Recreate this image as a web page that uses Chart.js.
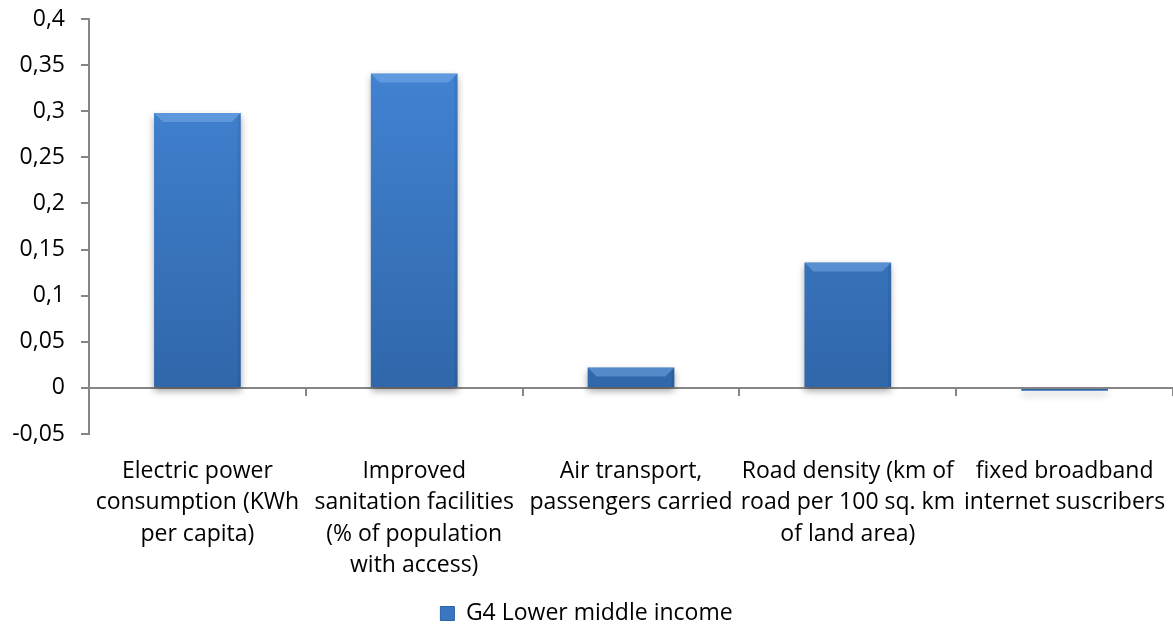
<!DOCTYPE html>
<html>
<head>
<meta charset="utf-8">
<title>G4 Lower middle income</title>
<script src="https://cdn.jsdelivr.net/npm/chart.js@4/dist/chart.umd.min.js"></script>
<style>
html,body{margin:0;padding:0;background:#fff;}
#wrap{width:1173px;height:637px;}
</style>
</head>
<body>
<div id="wrap"><canvas id="chart" width="1173" height="637"></canvas></div>
<script>

const categories=[
["Electric power","consumption (KWh","per capita)"],
["Improved","sanitation facilities","(% of population","with access)"],
["Air transport,","passengers carried"],
["Road density (km of","road per 100 sq. km","of land area)"],
["fixed broadband","internet suscribers"]
];

const seriesName="G4 Lower middle income";

const values=[0.298,0.341,0.022,0.136,-0.003];

const yMin=-0.05;
const yMax=0.4;
const yStep=0.05;

const axisColor="#868686";
const font={family:"'Open Sans', 'Liberation Sans', sans-serif",size:23};


function barGradient(context){

const chart=context.chart;
const area=chart.chartArea;

if(!area)return "#3a75bf";

const g=chart.ctx.createLinearGradient(0,area.top,0,area.bottom);
g.addColorStop(0,"#4487d8");
g.addColorStop(1,"#2e63a5");

return g;

}


function formatTick(v){

const r=Math.round(v*100)/100;

return String(r).replace(".",",");

}


// soft drop shadow under the bars
const barShadow={
id:"barShadow",
beforeDatasetDraw(chart){
const ctx=chart.ctx;
ctx.save();
ctx.shadowColor="rgba(0,0,0,0.35)";
ctx.shadowBlur=7;
ctx.shadowOffsetY=4;
},
afterDatasetDraw(chart){
chart.ctx.restore();
}
};


// light bevel along the top of each bar, darker right edge
const barBevel={
id:"barBevel",
afterDatasetDraw(chart,args){

const ctx=chart.ctx;

args.meta.data.forEach(bar=>{

const p=bar.getProps(["x","y","base","width"],true);

const left=p.x-p.width/2;
const right=p.x+p.width/2;
const top=Math.min(p.y,p.base);
const bottom=Math.max(p.y,p.base);
const h=bottom-top;

if(h<4)return;

const b=Math.min(9,h/2);

ctx.save();

ctx.fillStyle="rgba(140,190,245,0.4)";
ctx.beginPath();
ctx.moveTo(left,top);
ctx.lineTo(right,top);
ctx.lineTo(right-b,top+b);
ctx.lineTo(left+b,top+b);
ctx.closePath();
ctx.fill();

ctx.fillStyle="rgba(0,0,30,0.08)";
ctx.beginPath();
ctx.moveTo(right,top);
ctx.lineTo(right-3,top+3);
ctx.lineTo(right-3,bottom);
ctx.lineTo(right,bottom);
ctx.closePath();
ctx.fill();

ctx.restore();

});

}
};


new Chart(document.getElementById("chart"),{
type:"bar",
data:{
labels:categories,
datasets:[{
label:seriesName,
data:values,
backgroundColor:barGradient,
borderWidth:0,
xAxisID:"x",
categoryPercentage:1,
barPercentage:0.4
}]
},
options:{
responsive:false,
animation:false,
layout:{padding:{top:19,right:0,bottom:2,left:0}},
plugins:{
tooltip:{enabled:false},
legend:{
position:"bottom",
labels:{
color:"#000",
font:font,
boxWidth:14,
boxHeight:14,
padding:10,
generateLabels(chart){
return [{
text:seriesName,
fillStyle:"#3a76c2",
strokeStyle:"#2d62a4",
lineWidth:1,
datasetIndex:0
}];
}
}
}
},
scales:{
x:{
type:"category",
position:{y:0},
ticks:{display:false},
grid:{
offset:true,
drawOnChartArea:false,
drawTicks:true,
tickLength:7,
color:axisColor,
lineWidth:2
},
border:{color:axisColor,width:2}
},
x2:{
type:"category",
position:"bottom",
grid:{display:false,drawTicks:false},
border:{display:false},
ticks:{
color:"#000",
font:{...font,lineHeight:1.36},
padding:22,
maxRotation:0,
autoSkip:false
},
afterFit(scale){
scale.height=158;
scale.paddingLeft=0;
scale.paddingRight=0;
}
},
y:{
min:yMin,
max:yMax,
ticks:{
stepSize:yStep,
color:"#000",
font:font,
padding:16,
callback:formatTick
},
grid:{
drawOnChartArea:false,
tickLength:8,
color:axisColor,
lineWidth:2
},
border:{color:axisColor,width:2},
afterFit(scale){
scale.width=89;
scale.paddingTop=0;
scale.paddingBottom=0;
}
}
}
},
plugins:[barShadow,barBevel]
});

</script>
</body>
</html>
